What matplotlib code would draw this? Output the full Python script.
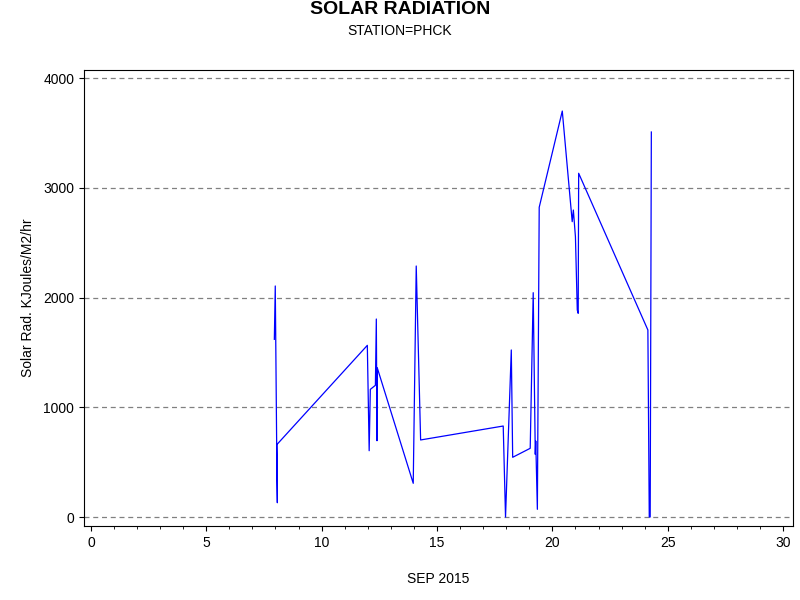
import matplotlib
matplotlib.use("Agg")
import matplotlib.pyplot as plt
from matplotlib.ticker import MultipleLocator

plt.rcParams["font.family"] = "Liberation Sans"

day = [7.95, 7.99, 8.05, 8.08, 8.06, 11.98, 12.06, 12.11, 12.33, 12.37, 12.40, 12.41,
       13.97, 14.10, 14.29, 17.87, 17.97, 18.22, 18.28, 19.04, 19.17, 19.26, 19.28, 19.35,
       19.43, 20.43, 20.86, 20.91, 21.00, 21.08, 21.12, 21.14, 24.14, 24.20, 24.24, 24.29]
rad = [1619, 2105, 680, 130, 660, 1564, 604, 1163, 1200, 1804, 695, 1360,
       307, 2287, 702, 829, 0, 1522, 544, 626, 2044, 571, 692, 70,
       2822, 3699, 2691, 2797, 2554, 1886, 1856, 3132, 1704, 0, 0, 3508]
xticks = [0, 5, 10, 15, 20, 25, 30]
yticks = [0, 1000, 2000, 3000, 4000]

fig = plt.figure(figsize=(8, 6), dpi=100)
ax = fig.add_axes([84/800, 1-526/600, (793-84)/800, (526-70)/600])
ax.plot(day, rad, color="blue", lw=0.9)
ax.set_xlim(-0.3, 30.43)
ax.set_ylim(-82, 4073)
ax.set_xticks(xticks)
ax.set_yticks(yticks)
ax.xaxis.set_minor_locator(MultipleLocator(1))
ax.tick_params(labelsize=10)
for y in yticks:
    ax.axhline(y, color="gray", ls=(0, (4, 3)), lw=0.9, zorder=0)
ax.set_xlabel("SEP 2015", fontsize=10, labelpad=16)
ax.set_ylabel("Solar Rad. KJoules/M2/hr", fontsize=10, labelpad=6)
fig.text(0.5, 1-10/600, "SOLAR RADIATION", ha="center", va="center", fontsize=14, fontweight="bold")
fig.text(0.5, 1-31/600, "STATION=PHCK", ha="center", va="center", fontsize=10)
fig.savefig("out.png", dpi=100)
